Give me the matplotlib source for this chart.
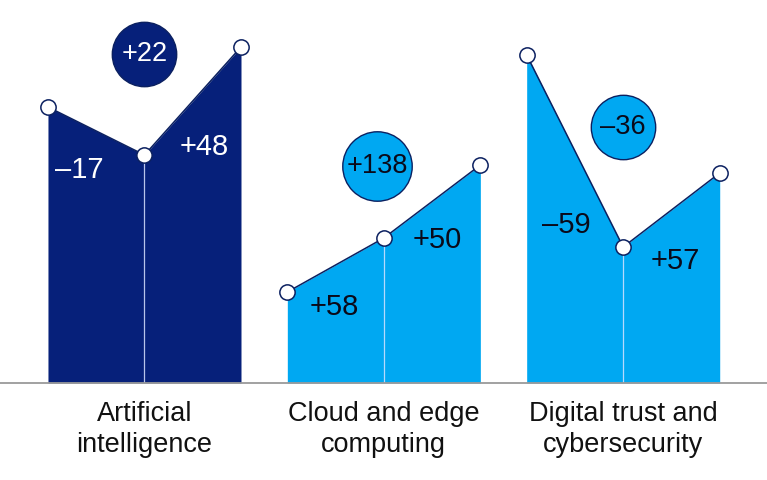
import matplotlib.pyplot as plt
import numpy as np

plt.rcParams["font.family"] = ["Liberation Sans", "DejaVu Sans"]

# index values (baseline = 0)
categories = ["Artificial\nintelligence", "Cloud and edge\ncomputing", "Digital trust and\ncybersecurity"]
ai_values = [276, 228, 336]
cloud_values = [91, 145, 218]
trust_values = [328, 136, 210]
step_labels = [["\u201317", "+48"], ["+58", "+50"], ["\u201359", "+57"]]
total_labels = ["+22", "+138", "\u201336"]

series = [ai_values, cloud_values, trust_values]

NAVY = "#06207a"
BLUE = "#00a8f2"
EDGE = "#0b2060"

fills = [NAVY, BLUE, BLUE]
text_colors = ["white", "#0a0a1a", "#0a0a1a"]

GROUP_GAP = 0.48
group_starts = [i * (2 + GROUP_GAP) for i in range(3)]

# label nudges (points) and badge placement
label_dx = [[-12, 8], [-1, 4], [-6, 3]]
label_dy = [[-28, -33], [-30, -28], [-53, -37]]
badge_y = [329, 217, 256]
badge_dx = [0, -0.07, 0]
badge_size = [2150, 2500, 2150]

fig = plt.figure(figsize=(7.67, 4.8), dpi=100)
ax = fig.add_axes([0, 97 / 480, 1, 383 / 480])
ax.set_xlim(-0.497, 7.45)
ax.set_ylim(0, 383)

for g, vals in enumerate(series):
    x = group_starts[g] + np.arange(3)
    ax.fill_between(x, 0, vals, color=fills[g], lw=0, zorder=1)
    ax.plot([x[1], x[1]], [0, vals[1]], color="#d8e2ff", lw=0.9, alpha=0.85, zorder=2)
    ax.plot(x, vals, color=EDGE, lw=1.1, zorder=3)
    ax.plot(x, vals, "o", ms=11, mfc="white", mec=EDGE, mew=1.1, zorder=4)
    for s in range(2):
        xm = (x[s] + x[s + 1]) / 2
        ym = (vals[s] + vals[s + 1]) / 2
        ax.annotate(step_labels[g][s], (xm, ym), xytext=(label_dx[g][s], label_dy[g][s]),
                    textcoords="offset points", ha="center", va="center",
                    fontsize=21, color=text_colors[g], zorder=5)
    bx = x[1] + badge_dx[g]
    ax.scatter([bx], [badge_y[g]], s=badge_size[g], color=fills[g],
               edgecolor=EDGE, linewidth=1.0, zorder=4, clip_on=False)
    ax.text(bx, badge_y[g], total_labels[g], ha="center", va="center",
            fontsize=19.5, color=text_colors[g], zorder=5)

ax.set_xticks([s + 1 for s in group_starts])
ax.set_xticklabels(categories, fontsize=19.5, color="#111111", linespacing=1.25)
ax.tick_params(axis="x", length=0, pad=13)
ax.set_yticks([])
for side in ["top", "left", "right"]:
    ax.spines[side].set_visible(False)
ax.spines["bottom"].set_color("#9a9a9a")
ax.spines["bottom"].set_linewidth(1.3)
ax.spines["bottom"].set_zorder(6)

fig.savefig("out.png", dpi=100)
